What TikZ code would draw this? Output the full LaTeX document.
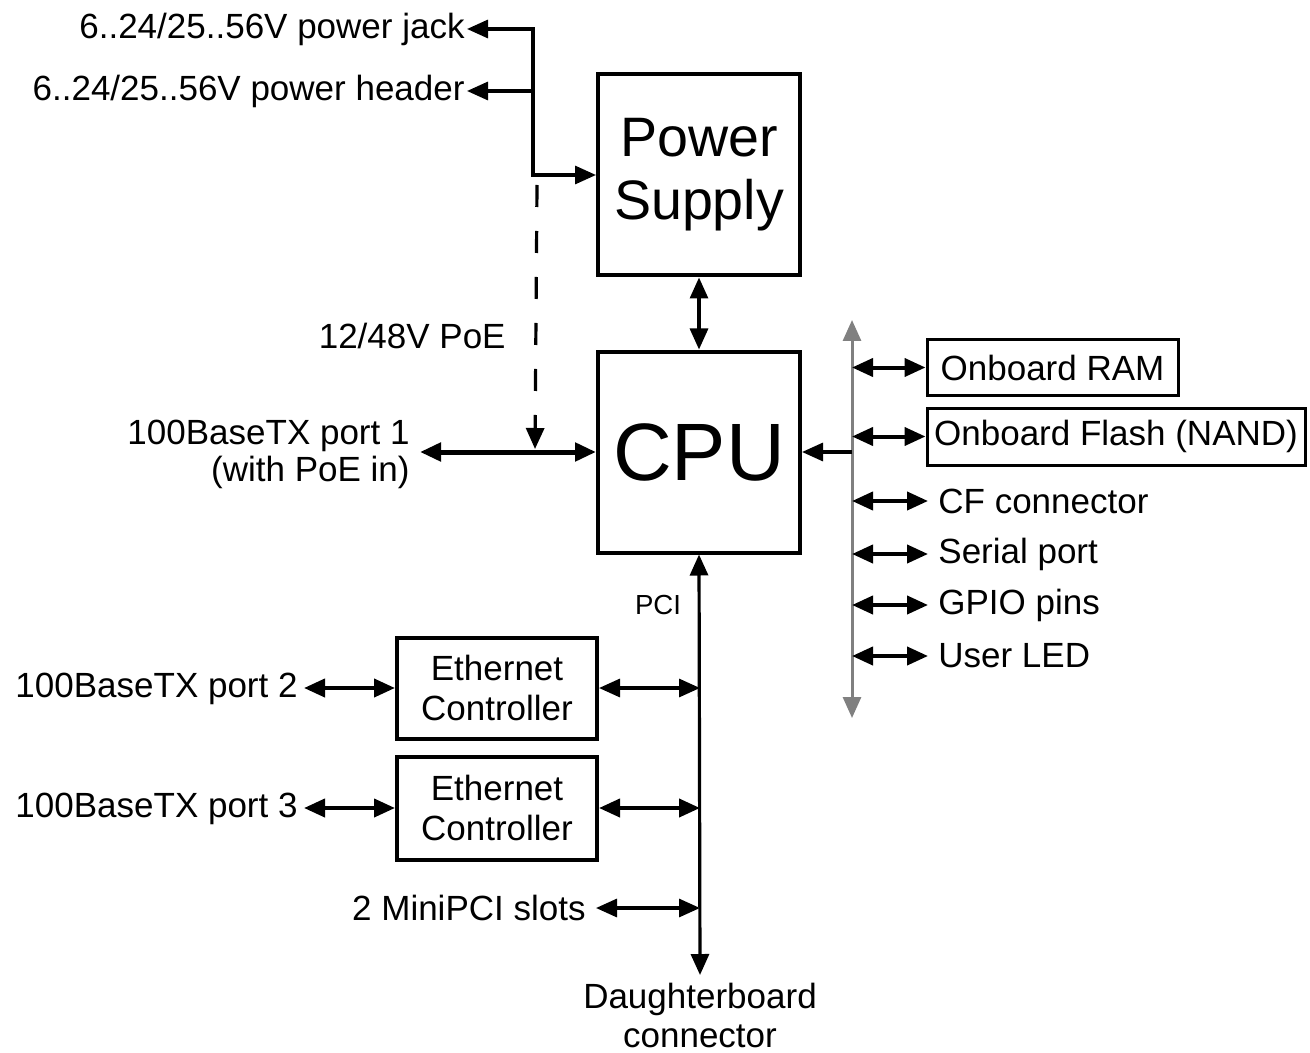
\documentclass[tikz,border=0pt]{standalone}
\usepackage{fontspec}
\setmainfont{Liberation Sans}
\usetikzlibrary{arrows.meta, positioning, calc}
\tikzset{
  blk/.style={draw=black, line width=2pt, inner sep=0pt, align=center},
  memblk/.style={draw=black, line width=1.5pt, inner sep=0pt, align=center,
                 font=\fontsize{17.5}{20}\selectfont},
  lbl/.style={inner sep=1pt, align=center, font=\fontsize{17.5}{19.5}\selectfont},
  conn/.style={line width=1.6pt, color=black},
  tip/.tip={Triangle[length=10.5pt, width=9pt]},
  busline/.style={line width=1.5pt, color=black!50},
}

\begin{document}
\begin{tikzpicture}[x=0.5pt, y=-0.5pt]
  \useasboundingbox (0,0) rectangle (1310,1053);

  % Main blocks
  \node[blk, minimum width=101pt, minimum height=100.5pt,
        font=\fontsize{27.8}{31.5}\selectfont] (psu) at (699,175) {Power\\Supply};
  \node[blk, minimum width=101pt, minimum height=100.5pt,
        font=\fontsize{40.7}{44}\selectfont] (cpu) at (699,452) {CPU};

  % Ethernet controllers
  \node[blk, minimum width=100pt, minimum height=50.5pt,
        font=\fontsize{17.5}{20}\selectfont] (eth1) at (497,688) {Ethernet\\Controller};
  \node[blk, minimum width=100pt, minimum height=51.5pt,
        font=\fontsize{17.5}{20}\selectfont] (eth2) at (497,808) {Ethernet\\Controller};

  % Memories
  \node[memblk, minimum width=125.5pt, minimum height=27.5pt] (ram) at (1052.5,367.5) {Onboard RAM};
  \node[memblk, minimum width=189pt, minimum height=28.5pt] (flash) at (1116,436.5) {Onboard Flash (NAND)};

  % Power inputs
  \node[lbl, anchor=east] (jack) at (467,29) {6..24/25..56V power jack};
  \node[lbl, anchor=east] (hdr) at (467,91) {6..24/25..56V power header};
  \coordinate (pwrjoin) at (533,175);
  \draw[conn, tip-tip] (jack.east) -| (pwrjoin) -- (psu.west);
  \draw[conn, tip-] (hdr.east) -- (hdr.east -| pwrjoin);

  % PoE
  \node[lbl, anchor=east] (poe) at (508,336) {12/48V PoE};
  \coordinate (poetop) at (537,185);
  \coordinate (poetap) at (535,449);
  \draw[conn, dash pattern=on 11pt off 12pt, -tip] (poetop) -- (poetap);

  % Port 1
  \node[lbl, anchor=east, align=right, font=\fontsize{17.5}{18.5}\selectfont]
        (port1) at (412,454) {100BaseTX port 1\\(with PoE in)};
  \draw[conn, line width=2.5pt, tip-tip] ([xshift=4pt]port1.east |- cpu.west) -- (cpu.west);

  % PSU to CPU
  \draw[conn, tip-tip] (psu) -- (cpu);

  % Local bus
  \coordinate (bustop) at (852,320);
  \coordinate (busbot) at (852,718);
  \draw[busline, tip-tip] (bustop) -- (busbot);
  \draw[conn, -tip] (bustop |- cpu.east) -- (cpu.east);
  \draw[conn, line width=2pt, tip-tip] (bustop |- ram.west) -- (ram.west);
  \draw[conn, line width=2pt, tip-tip] (bustop |- flash.west) -- (flash.west);
  \foreach \name/\txt/\yy in {cf/CF connector/501, ser/Serial port/554,
                              gpio/GPIO pins/605, led/User LED/656} {
    \node[lbl, anchor=west, inner xsep=5pt] (\name) at (928,\yy) {\txt};
    \draw[conn, line width=2pt, tip-tip] (bustop |- \name.west) -- (\name.west);
  }

  % PCI bus
  \coordinate (pcibot) at (700,975);
  \draw[conn, tip-tip] (cpu.south) -- (pcibot);
  \node[lbl, font=\fontsize{13.8}{16}\selectfont] (pci) at (658,605) {PCI};

  \node[lbl, anchor=east] (port2) at (300,689) {100BaseTX port 2};
  \node[lbl, anchor=east] (port3) at (300,809) {100BaseTX port 3};
  \draw[conn, line width=2pt, tip-tip] ([xshift=2pt]port2.east |- eth1.west) -- (eth1.west);
  \draw[conn, line width=2pt, tip-tip] ([xshift=2pt]port3.east |- eth2.west) -- (eth2.west);
  \draw[conn, tip-tip] (eth1.east) -- (eth1.east -| pcibot);
  \draw[conn, line width=2pt, tip-tip] (eth2.east) -- (eth2.east -| pcibot);

  \node[lbl, anchor=east] (mini) at (588,908) {2 MiniPCI slots};
  \draw[conn, tip-tip] ([xshift=4pt]mini.east) -- (mini.east -| pcibot);

  \node[lbl] (dbc) at (700,1015) {Daughterboard\\connector};
\end{tikzpicture}
\end{document}
